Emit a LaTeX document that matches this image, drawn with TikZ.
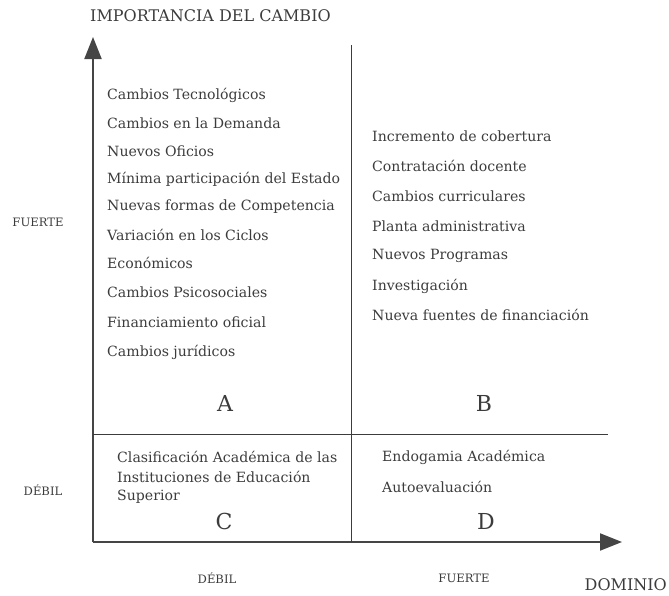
\documentclass[tikz,border=0pt]{standalone}
\usepackage{fontspec}
\setmainfont{DejaVu Serif}
\usetikzlibrary{arrows.meta}
\definecolor{ink}{HTML}{3C3C3C}
\definecolor{axis}{HTML}{454545}
\tikzset{
  item/.style={anchor=west, inner sep=0pt, text=ink, font=\fontsize{14.1}{16}\selectfont},
  small/.style={inner sep=0pt, text=ink, font=\fontsize{11.6}{13}\selectfont},
  title/.style={inner sep=0pt, text=ink, font=\fontsize{16}{18}\selectfont},
  letter/.style={inner sep=0pt, text=ink, font=\fontsize{22}{24}\selectfont},
  axisline/.style={line width=2pt, draw=axis, -{Triangle[length=22pt,width=17pt]}},
  divider/.style={line width=1pt, draw=ink}
}
\begin{document}
\begin{tikzpicture}[x=1pt,y=-1pt]
\useasboundingbox (0,0) rectangle (669,595);
% axes
\coordinate (O) at (93,542);
\coordinate (Ytop) at (93,37);
\coordinate (Xend) at (622,542);
\draw[axisline] (O) -- (Ytop);
\draw[axisline] (O) -- (Xend);
% dividers
\coordinate (Vt) at (351,45);
\coordinate (Vb) at (351,542);
\coordinate (Hl) at (93,434);
\coordinate (Hr) at (608,434);
\draw[divider] (Vt) -- (Vb);
\draw[divider] (Hl) -- (Hr);
% titles
\node[title, anchor=west] (ttl) at (90,16) {IMPORTANCIA DEL CAMBIO};
\node[title, anchor=east] (dom) at (667,585) {DOMINIO};
\node[small] (yF) at (38,222) {FUERTE};
\node[small] (yD) at (43,490) {DÉBIL};
\node[small] (xD) at (217,578) {DÉBIL};
\node[small] (xF) at (464,578) {FUERTE};
% quadrant A
\node[item] (a1) at (107,95) {Cambios Tecnológicos};
\node[item] (a2) at (107,123) {Cambios en la Demanda};
\node[item] (a3) at (107,151) {Nuevos Oficios};
\node[item] (a4) at (107,179) {Mínima participación del Estado};
\node[item] (a5) at (107,207) {Nuevas formas de Competencia};
\node[item] (a6) at (107,235) {Variación en los Ciclos};
\node[item] (a7) at (107,263) {Económicos};
\node[item] (a8) at (107,292) {Cambios Psicosociales};
\node[item] (a9) at (107,322) {Financiamiento oficial};
\node[item] (a10) at (107,352) {Cambios jurídicos};
\node[letter] (A) at (225,403) {A};
% quadrant B
\node[item] (b1) at (372,136) {Incremento de cobertura};
\node[item] (b2) at (372,166) {Contratación docente};
\node[item] (b3) at (372,196) {Cambios curriculares};
\node[item] (b4) at (372,226) {Planta administrativa};
\node[item] (b5) at (372,256) {Nuevos Programas};
\node[item] (b6) at (372,286) {Investigación};
\node[item] (b7) at (372,315) {Nueva fuentes de financiación};
\node[letter] (B) at (484,403) {B};
% quadrant C
\node[item] (c1) at (117,457) {Clasificación Académica de las};
\node[item] (c2) at (117,477) {Instituciones de Educación};
\node[item] (c3) at (117,497) {Superior};
\node[letter] (C) at (224,521) {C};
% quadrant D
\node[item] (d1) at (382,457) {Endogamia Académica};
\node[item] (d2) at (382,487) {Autoevaluación};
\node[letter] (D) at (486,521) {D};
\end{tikzpicture}
\end{document}
